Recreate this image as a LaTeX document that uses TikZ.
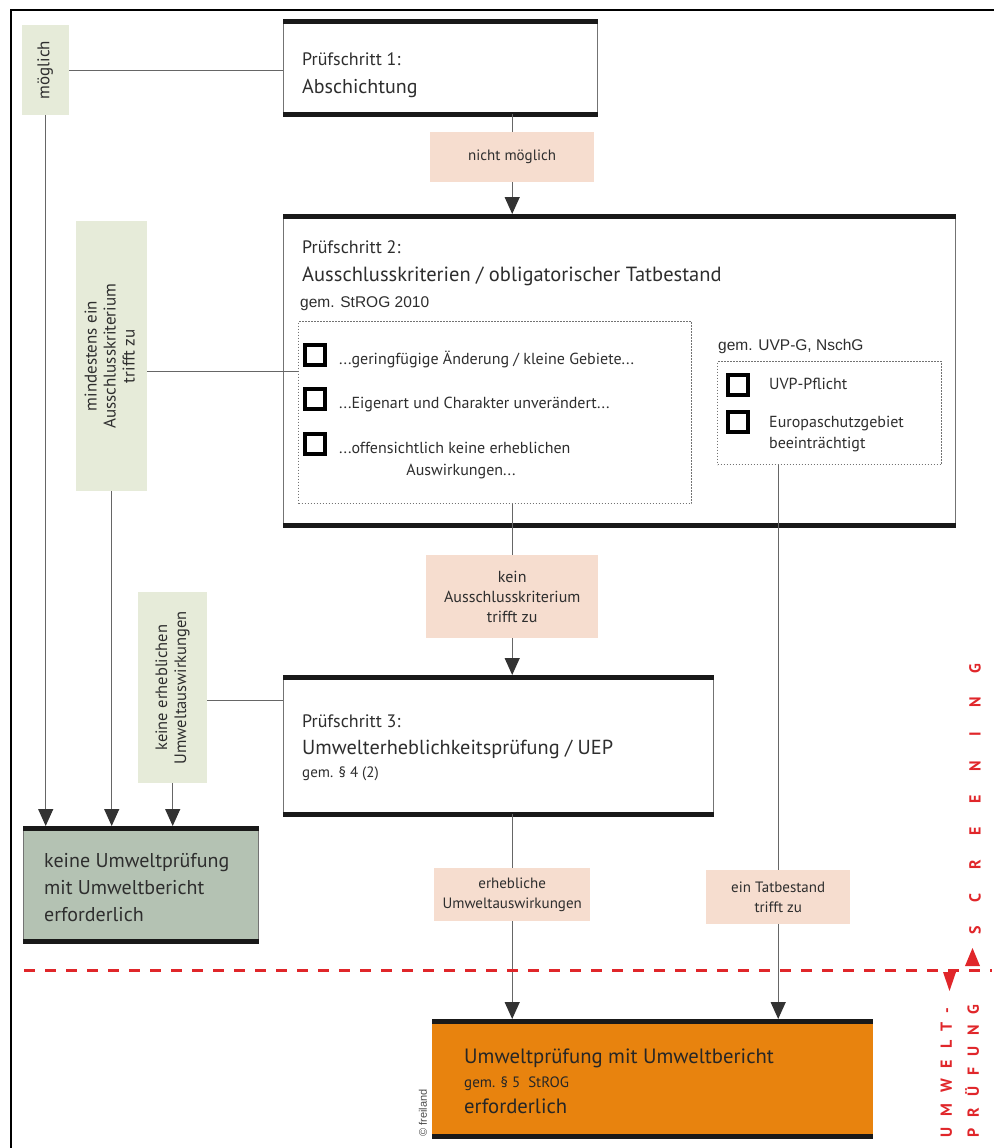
\documentclass[tikz,border=0pt]{standalone}
\usepackage{fontspec}
\setmainfont{PT Sans}
\newfontfamily\arialf{Liberation Sans}
\newfontfamily\screenf[LetterSpace=150]{PT Sans}
\newfontfamily\uwpf[LetterSpace=69]{PT Sans}
\usetikzlibrary{arrows.meta}
\definecolor{labelgreen}{HTML}{E6EBD9}
\definecolor{labelpink}{HTML}{F6DDCF}
\definecolor{stopgreen}{HTML}{B4C2B3}
\definecolor{uporange}{HTML}{E8830E}
\definecolor{cutred}{HTML}{E0262A}
\definecolor{ink}{HTML}{2E2E2E}
\newcommand\Fs[2]{\fontsize{#1}{#2}\selectfont}
\newcommand\Vlabel[1]{\rotatebox{90}{\begin{tabular}{@{}c@{}}#1\end{tabular}}}

\tikzset{
    stepbox/.style={draw=black!55, line width=1pt, fill=white, anchor=north west, inner sep=0pt},
    bar/.style={line width=5pt, black!90},
    conn/.style={draw=black!60, line width=1.2pt},
    arr/.style={conn, shorten >=2pt, -{Triangle[width=15pt,length=17pt,color=black!80]}},
    greenlbl/.style={fill=labelgreen, anchor=north west, inner sep=0pt, text=ink, font=\Fs{17}{19}},
    pinklbl/.style={fill=labelpink, anchor=north west, inner sep=0pt, align=center, text=ink, font=\Fs{15}{20}},
    dotbox/.style={draw=black!55, line width=1pt, dash pattern=on 1.2pt off 1.8pt, anchor=north west, inner sep=0pt},
    chk/.style={draw=black, line width=4pt, minimum size=20pt, inner sep=0pt},
    txt/.style={anchor=base west, inner sep=0pt, text=ink},
}

\begin{document}
\begin{tikzpicture}[x=1pt, y=-1pt]
    \useasboundingbox (0,0) rectangle (994,1148);
    \draw[line width=2pt] (11,1148) -- (11,10) -- (994,10);

    % Pruefschritte
    \node[stepbox, minimum width=314pt, minimum height=91pt] (p1) at (283,22) {};
    \node[stepbox, minimum width=672pt, minimum height=308pt] (p2) at (283,216) {};
    \node[stepbox, minimum width=430pt, minimum height=136pt] (p3) at (283,677) {};
    \node[stepbox, fill=stopgreen, minimum width=235pt, minimum height=112pt] (keine) at (23,828) {};
    \node[stepbox, draw=uporange, fill=uporange, minimum width=440pt, minimum height=114pt] (uwp) at (432,1021) {};
    \foreach \b in {p1,p2,p3,keine,uwp}
        \draw[bar] (\b.north west) -- (\b.north east) (\b.south west) -- (\b.south east);

    \node[txt, font=\Fs{18}{20}] (p1a) at (302,66) {Prüfschritt 1:};
    \node[txt, font=\Fs{20}{24}] (p1b) at (302,93) {Abschichtung};

    \node[txt, font=\Fs{18}{20}] (p2a) at (302,253) {Prüfschritt 2:};
    \node[txt, font=\Fs{20.5}{24}] (p2b) at (302,281) {Ausschlusskriterien / obligatorischer Tatbestand};
    \node[txt, font=\arialf\Fs{15.5}{18}] (p2c) at (300,307) {gem. StROG 2010};
    \node[dotbox, minimum width=393pt, minimum height=182pt] (dotA) at (298,321) {};
    \node[txt, font=\arialf\Fs{15.5}{18}] (p2d) at (718,350) {gem. UVP-G, NschG};
    \node[dotbox, minimum width=224pt, minimum height=103pt] (dotB) at (717,361) {};

    % Kriterien
    \foreach \y/\t [count=\i] in {364/{...geringfügige Änderung / kleine Gebiete...},
            408/{...Eigenart und Charakter unverändert...},
            453/{...offensichtlich keine erheblichen}} {
        \node[chk] (ca\i) at (315,{\y-9}) {};
        \node[txt, font=\Fs{16}{20}] (ta\i) at (339,\y) {\t};
    }
    \node[anchor=base, inner sep=0pt, text=ink, font=\Fs{16}{20}] (ta4) at (461,475) {Auswirkungen...};
    \node[chk] (cb1) at (738,385) {};
    \node[chk] (cb2) at (738,422) {};
    \node[txt, font=\Fs{16}{20}] (tb1) at (769,389) {UVP-Pflicht};
    \node[txt, font=\Fs{16}{20}] (tb2) at (769,427) {Europaschutzgebiet};
    \node[txt, font=\Fs{16}{20}] (tb3) at (769,448) {beeinträchtigt};

    \node[txt, font=\Fs{18}{20}] (p3a) at (302,727) {Prüfschritt 3:};
    \node[txt, font=\Fs{20.3}{24}] (p3b) at (302,754) {Umwelterheblichkeitsprüfung / UEP};
    \node[txt, font=\Fs{15}{18}] (p3c) at (302,777) {gem. § 4 (2)};

    \foreach \t [count=\i from 0] in {keine Umweltprüfung, mit Umweltbericht, erforderlich}
        \node[txt, font=\Fs{20}{24}] (kt\i) at (44,{867+27*\i}) {\t};

    \node[txt, text=black!85, font=\Fs{20.7}{24}] (ut1) at (464,1063) {Umweltprüfung mit Umweltbericht};
    \node[txt, text=black!85, font=\Fs{15}{18}] (ut2) at (464,1087) {gem. § 5~~StROG};
    \node[txt, text=black!85, font=\Fs{20.7}{24}] (ut3) at (464,1113) {erforderlich};

    % Beschriftungen
    \node[greenlbl, minimum width=47pt, minimum height=90pt] (mgl) at (22,25) {\Vlabel{möglich}};
    \node[greenlbl, minimum width=71pt, minimum height=270pt] (mind) at (76,221)
        {\Vlabel{mindestens ein\\Ausschlusskriterium\\trifft zu}};
    \node[greenlbl, font=\Fs{16.5}{19}, minimum width=69pt, minimum height=191pt] (kerh) at (138,592)
        {\Vlabel{keine erheblichen\\Umweltauswirkungen}};
    \node[pinklbl, minimum width=164pt, minimum height=50pt] (nm) at (430,132) {nicht möglich};
    \node[pinklbl, font=\Fs{16}{20}, minimum width=172pt, minimum height=83pt] (kein) at (426,555) {kein\\Ausschlusskriterium\\trifft zu};
    \node[pinklbl, minimum width=156pt, minimum height=53pt] (erh) at (434,868) {erhebliche\\Umweltauswirkungen};
    \node[pinklbl, minimum width=144pt, minimum height=54pt] (tat) at (706,870) {ein Tatbestand\\trifft zu};

    % Verbindungen
    \draw[conn] (mgl.east) -- (mgl.east -| p1.west);
    \draw[conn] ([yshift=-15pt]mind.east) -- ([yshift=-15pt]mind.east -| dotA.west);
    \draw[conn] ([yshift=-13pt]kerh.east) -- ([yshift=-13pt]kerh.east -| p3.west);
    \foreach \l in {mgl,mind,kerh}
        \draw[arr] (\l.south) -- (\l.south |- keine.north);
    \draw[conn] (p1.south -| nm.north) -- (nm.north);
    \draw[arr] (nm.south) -- (nm.south |- p2.north);
    \draw[conn] (dotA.south -| kein.north) -- (kein.north);
    \draw[arr] (kein.south) -- (kein.south |- p3.north);
    \draw[conn] (p3.south -| erh.north) -- (erh.north);
    \draw[arr] (erh.south) -- (erh.south |- uwp.north);
    \draw[conn] (dotB.south -| tat.north) -- (tat.north);
    \draw[arr] (tat.south) -- (tat.south |- uwp.north);

    % Screening / Umweltpruefung
    \draw[cutred, line width=3pt, dash pattern=on 11pt off 10pt] (24,970) -- (992,970);
    \fill[cutred] (943,972) -- (956,972) -- (949.5,991) -- cycle;
    \fill[cutred] (965,966) -- (980,966) -- (972.5,948) -- cycle;
    \node[anchor=south, inner sep=0pt, text=cutred, font=\screenf\bfseries\Fs{16}{17}] (scr) at (975,935) {\rotatebox{90}{SCREENING}};
    \node[anchor=south, inner sep=0pt, text=cutred, font=\uwpf\bfseries\Fs{16}{27}] (upr) at (960,1138)
        {\rotatebox{90}{\begin{tabular}{@{}l@{}}UMWELT-\\PRÜFUNG\end{tabular}}};
    \node[inner sep=0pt, text=black!70, font=\arialf\Fs{11}{13}] (cpy) at (423,1113) {\rotatebox{90}{© freiland}};
\end{tikzpicture}
\end{document}
